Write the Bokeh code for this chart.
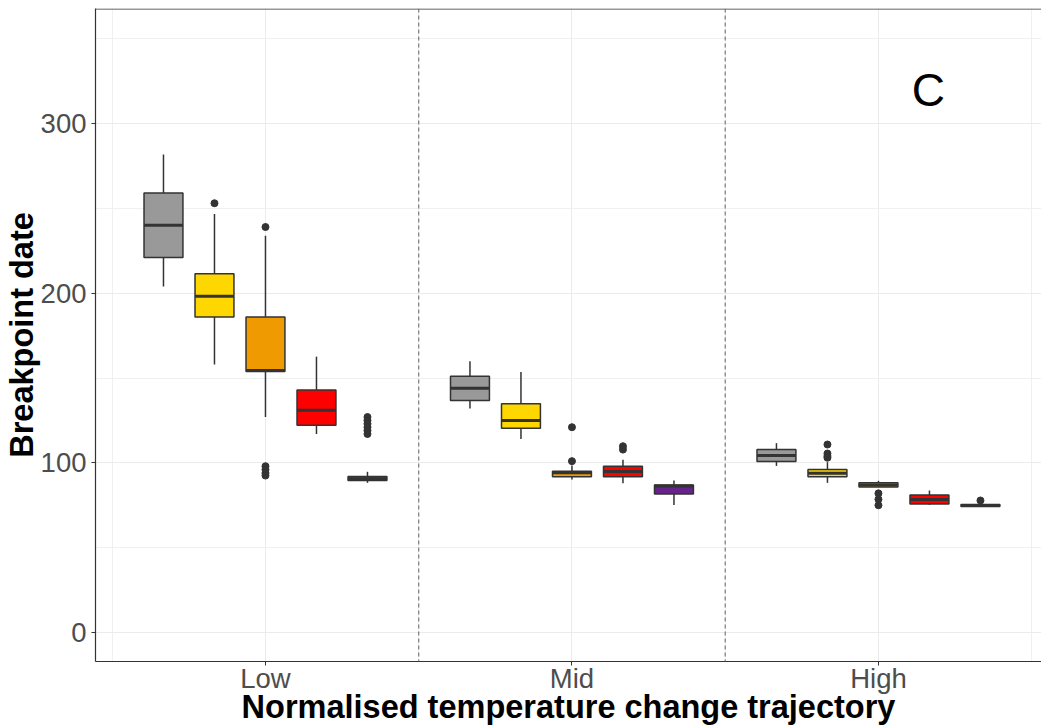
from bokeh.plotting import figure
from bokeh.models import FixedTicker, Span, Label, ColumnDataSource
from bokeh.embed import file_html
from bokeh.resources import INLINE

# ---------------- data ----------------
groups = ["Low", "Mid", "High"]
group_pos = [1, 2, 3]
series = ["s1", "s2", "s3", "s4", "s5"]
colors = ["#999999", "#FFD700", "#EE9A00", "#FF0000", "#68228B"]

# rows = groups (Low, Mid, High); columns = series s1..s5
whisk_lo = [[204, 158, 127, 117, 88.2],
            [132, 114, 90.2, 88, 75.2],
            [98.2, 88.2, 85.7, 75.2, 74.2]]
q1 = [[221, 186, 153.8, 122.2, 89.6],
      [136.7, 120.4, 91.8, 91.8, 81.7],
      [100.8, 91.8, 85.7, 75.8, 74.2]]
median = [[240, 198.2, 154.4, 131, 90.5],
          [144, 124.9, 94.1, 94.9, 86.3],
          [104.3, 93.9, 87, 78.4, 74.8]]
q3 = [[259, 211.5, 186, 143, 92],
      [151, 134.8, 95, 98, 87],
      [107.8, 96, 88.2, 81, 75.4]]
whisk_hi = [[281.7, 246.7, 233.8, 162.6, 94.7],
            [159.9, 153.6, 98.4, 101.8, 89.6],
            [111.6, 100.4, 89.4, 83.7, 75.6]]

# outliers: (group index, series index, value)
out_group = [0, 0, 0, 0, 0, 0, 0, 0, 0, 0, 0, 0,
             1, 1, 1, 1,
             2, 2, 2, 2, 2, 2, 2, 2]
out_series = [1, 2, 2, 2, 2, 2, 4, 4, 4, 4, 4, 4,
              2, 2, 3, 3,
              1, 1, 1, 1, 2, 2, 2, 4]
out_value = [253, 239, 98, 96, 94, 92.5, 127, 125, 123, 121, 119, 117,
             121, 101, 109.8, 107.8,
             110.8, 105.5, 104, 103, 82, 78.5, 75, 77.8]

y_ticks = [0, 100, 200, 300]
y_minor = [50, 150, 250, 350]
x_minor = [0.5, 1.5, 2.5, 3.5]
dividers = [1.5, 2.5]
panel_letter = "C"

# ---------------- layout constants ----------------
dodge = 0.1664
box_w = 0.127
FONT = "Liberation Sans"

xs, tops, bots, meds, lo, hi, fills = [], [], [], [], [], [], []
for g in range(3):
    for s in range(5):
        xs.append(group_pos[g] + (s - 2) * dodge)
        tops.append(q3[g][s])
        bots.append(q1[g][s])
        meds.append(median[g][s])
        lo.append(whisk_lo[g][s])
        hi.append(whisk_hi[g][s])
        fills.append(colors[s])

src = ColumnDataSource(dict(x=xs, top=tops, bottom=bots, med=meds, lo=lo, hi=hi,
                            fill=fills,
                            x0=[x - box_w / 2 for x in xs],
                            x1=[x + box_w / 2 for x in xs]))
osrc = ColumnDataSource(dict(x=[group_pos[g] + (s - 2) * dodge for g, s in zip(out_group, out_series)],
                             y=out_value))

p = figure(width=1041, height=728, output_backend="svg", toolbar_location=None,
           x_range=(0.4454, 3.532), y_range=(-17.1, 367.8),
           min_border_left=95, min_border_right=0, min_border_top=8, min_border_bottom=67)
p.outline_line_color = None
p.background_fill_color = "white"
p.border_fill_color = "white"

# grid
p.xaxis.ticker = FixedTicker(ticks=group_pos, minor_ticks=x_minor)
p.yaxis.ticker = FixedTicker(ticks=y_ticks, minor_ticks=y_minor)
p.xaxis.major_label_overrides = {gp: gn for gp, gn in zip(group_pos, groups)}
for grid in (p.xgrid, p.ygrid):
    grid.grid_line_color = "#EBEBEB"
    grid.grid_line_width = 1
    grid.minor_grid_line_color = "#F0F0F0"
    grid.minor_grid_line_width = 1

for ax in (p.xaxis, p.yaxis):
    ax.axis_line_color = "#333333"
    ax.axis_line_width = 1.2
    ax.major_tick_line_color = "#333333"
    ax.major_tick_out = 4
    ax.major_tick_in = 0
    ax.minor_tick_line_color = None
    ax.major_label_text_font = FONT
    ax.major_label_text_font_size = "27.5px"
    ax.major_label_text_color = "#4D4D4D"
    ax.axis_label_text_font = FONT
    ax.axis_label_text_font_size = "32.5px"
    ax.axis_label_text_font_style = "bold"
    ax.axis_label_text_color = "black"
p.xaxis.axis_label = "Normalised temperature change trajectory"
p.yaxis.axis_label = "Breakpoint date"
p.xaxis.major_label_standoff = -3
p.xaxis.axis_label_standoff = -8
p.yaxis.major_label_standoff = 5
p.yaxis.axis_label_standoff = -2

# top border
p.add_layout(Span(location=367.8 - 0.3, dimension="width", line_color="#333333", line_width=1.2))

# dashed dividers
for d in dividers:
    p.add_layout(Span(location=d, dimension="height", line_color="#7A7A7A",
                      line_width=1.2, line_dash="4 3"))

# whiskers
p.segment(x0="x", y0="lo", x1="x", y1="bottom", source=src, line_color="#333333", line_width=1.5)
p.segment(x0="x", y0="top", x1="x", y1="hi", source=src, line_color="#333333", line_width=1.5)
# boxes
p.vbar(x="x", width=box_w, top="top", bottom="bottom", source=src, fill_color="fill",
       line_color="#333333", line_width=1.5)
# medians
p.segment(x0="x0", y0="med", x1="x1", y1="med", source=src, line_color="#333333", line_width=3)
# outliers
p.scatter(x="x", y="y", source=osrc, size=7, fill_color="#333333", line_color="#333333")

p.add_layout(Label(x=3.163, y=320, text=panel_letter, text_font=FONT, text_font_size="46px",
                   text_color="black", text_align="center", text_baseline="middle"))

open("out.html", "w").write(file_html(p, INLINE))
